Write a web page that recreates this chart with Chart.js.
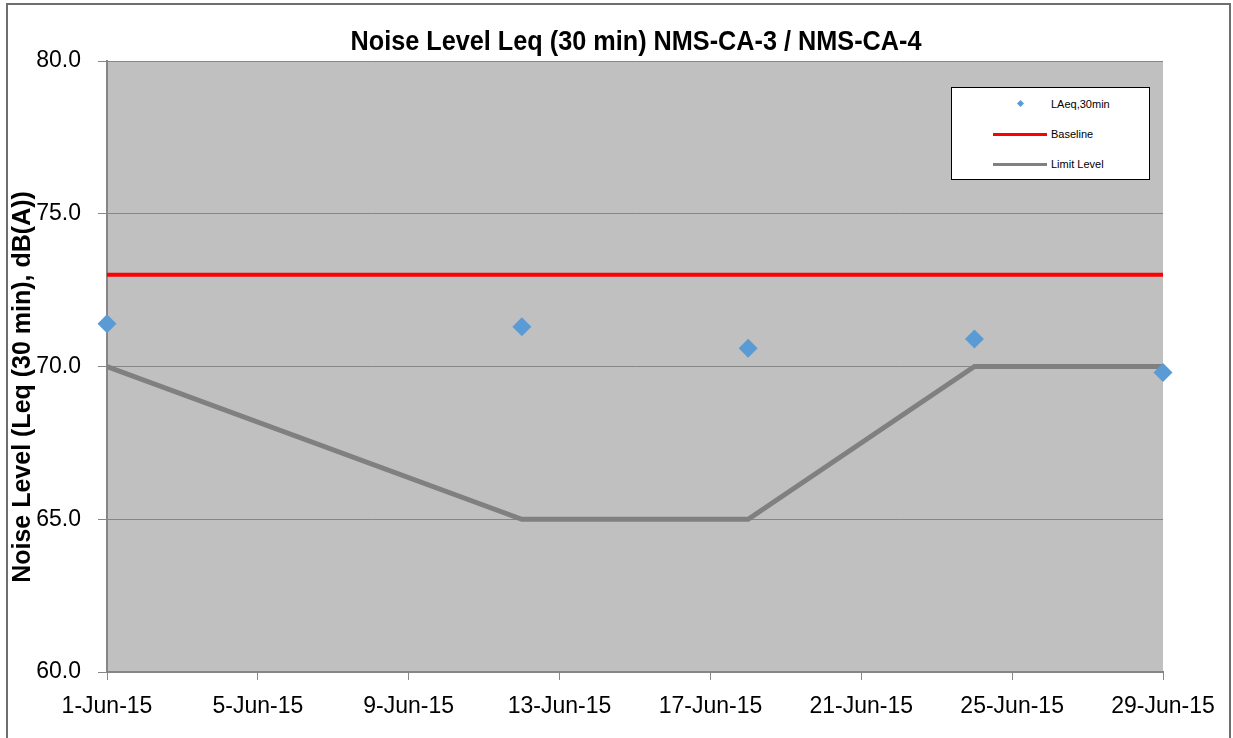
<!DOCTYPE html>
<html>
<head>
<meta charset="utf-8">
<title>Noise Level Leq (30 min) NMS-CA-3 / NMS-CA-4</title>
<script src="https://cdn.jsdelivr.net/npm/chart.js@4.4.0/dist/chart.umd.min.js"></script>
<style>
  html, body { margin: 0; padding: 0; background: #fff; }
  #wrap { position: relative; width: 1233px; height: 738px; overflow: hidden; }
  #frame { position: absolute; left: 6px; top: 3px; width: 1225px; height: 760px;
           border: 2px solid #6e6e6e; box-sizing: border-box; pointer-events: none; }
  #legend { position: absolute; left: 951px; top: 87px; width: 199px; height: 93px;
            background: #fff; border: 1px solid #000; box-sizing: border-box;
            font: 11px "Liberation Sans", Arial, sans-serif; color: #000; }
  #legend .row { position: absolute; left: 0; height: 14px; width: 100%; }
  #legend .txt { position: absolute; left: 99px; top: 0; line-height: 14px; white-space: nowrap; }
  #legend .dia { position: absolute; left: 66px; top: 4px; width: 5px; height: 5px;
                 background: #5b9bd5; transform: rotate(45deg); }
  #legend .ln { position: absolute; left: 41px; top: 6px; width: 54px; height: 3px; }
</style>
</head>
<body>
<div id="wrap">
  <canvas id="chart" width="1233" height="738"></canvas>
  <div id="legend">
    <div class="row" style="top:9px"><span class="dia"></span><span class="txt">LAeq,30min</span></div>
    <div class="row" style="top:39px"><span class="ln" style="background:#ff0000"></span><span class="txt">Baseline</span></div>
    <div class="row" style="top:69px"><span class="ln" style="background:#808080"></span><span class="txt">Limit Level</span></div>
  </div>
  <div id="frame"></div>
</div>
<script>
// day of June 2015
var measureDays = [1, 12, 18, 24, 29];
var laeq = [71.4, 71.3, 70.6, 70.9, 69.8];

var limitDays = [1, 12, 18, 24, 29];
var limitLevel = [70, 65, 65, 70, 70];

var baselineDays = [1, 29];
var baseline = [73, 73];

var xTicks = [1, 5, 9, 13, 17, 21, 25, 29];
var yTicks = [60, 65, 70, 75, 80];

function toPoints(xs, ys) {
    var pts = [];
    for (var i = 0; i < xs.length; i++) {
        pts.push({x: xs[i], y: ys[i]});
    }
    return pts;
}

// grey plot area behind the grid
var plotBg = {
    id: 'plotBg',
    beforeDraw: function(chart) {
        var a = chart.chartArea, ctx = chart.ctx;
        ctx.save();
        ctx.fillStyle = '#c0c0c0';
        ctx.fillRect(a.left, a.top, a.right - a.left, a.bottom - a.top);
        ctx.restore();
    }
};

// chart title and the rotated y axis title (slightly stretched, narrow bold look)
var titles = {
    id: 'titles',
    afterDraw: function(chart) {
        var a = chart.chartArea, ctx = chart.ctx;
        ctx.save();
        ctx.fillStyle = '#000';
        ctx.font = 'bold 25px "Liberation Sans", Arial, sans-serif';
        ctx.textAlign = 'center';
        ctx.textBaseline = 'middle';
        ctx.save();
        ctx.translate((a.left + a.right) / 2 + 1, 42);
        ctx.scale(1.01, 1.1);
        ctx.fillText('Noise Level Leq (30 min) NMS-CA-3 / NMS-CA-4', 0, 0);
        ctx.restore();
        ctx.translate(23, 387);
        ctx.rotate(-Math.PI / 2);
        ctx.fillText('Noise Level (Leq (30 min), dB(A))', 0, 0);
        ctx.restore();
    }
};

var tickFont = {family: '"Liberation Sans", Arial, sans-serif', size: 23};

var chart = new Chart(document.getElementById('chart'), {
    type: 'scatter',
    data: {
        datasets: [
            {
                label: 'LAeq,30min',
                data: toPoints(measureDays, laeq),
                pointStyle: 'rectRot',
                pointRadius: 9.5,
                pointHoverRadius: 9.5,
                backgroundColor: '#5b9bd5',
                borderColor: '#5b9bd5',
                borderWidth: 0,
                clip: false
            },
            {
                label: 'Baseline',
                data: toPoints(baselineDays, baseline),
                showLine: true,
                borderColor: '#ff0000',
                borderWidth: 4,
                pointRadius: 0
            },
            {
                label: 'Limit Level',
                data: toPoints(limitDays, limitLevel),
                showLine: true,
                borderColor: '#808080',
                borderWidth: 5,
                pointRadius: 0
            }
        ]
    },
    options: {
        responsive: false,
        devicePixelRatio: 1,
        animation: false,
        layout: {padding: {top: 61, right: 70, left: 0, bottom: 0}},
        plugins: {
            legend: {display: false},
            tooltip: {enabled: false},
            title: {display: false}
        },
        scales: {
            x: {
                type: 'linear',
                min: 1,
                max: 29,
                afterBuildTicks: function(s) {
                    s.ticks = xTicks.map(function(v) { return {value: v}; });
                },
                afterFit: function(s) { s.height = 66; },
                ticks: {
                    autoSkip: false,
                    maxRotation: 0,
                    color: '#000',
                    font: tickFont,
                    padding: 13,
                    callback: function(v) { return v + '-Jun-15'; }
                },
                grid: {drawOnChartArea: false, drawTicks: true, tickLength: 8, color: '#868686'},
                border: {color: '#868686', width: 2}
            },
            y: {
                min: 60,
                max: 80,
                afterBuildTicks: function(s) {
                    s.ticks = yTicks.map(function(v) { return {value: v}; });
                },
                afterFit: function(s) { s.width = 107; },
                ticks: {
                    color: '#000',
                    font: tickFont,
                    padding: 17,
                    callback: function(v) { return v.toFixed(1); }
                },
                grid: {color: '#868686', lineWidth: 1, tickLength: 9},
                border: {color: '#868686', width: 2}
            }
        }
    },
    plugins: [plotBg, titles]
});
</script>
</body>
</html>
